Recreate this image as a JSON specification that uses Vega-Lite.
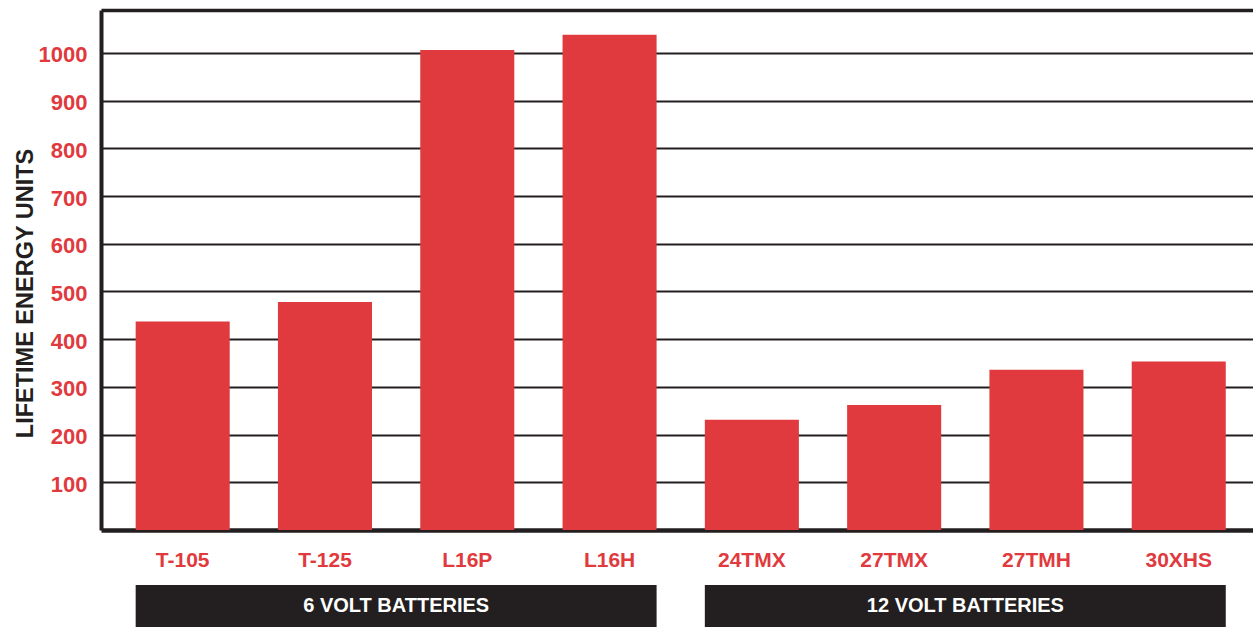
{
  "$schema": "https://vega.github.io/schema/vega-lite/v6.json",
  "autosize": {"type": "pad"},
  "padding": {"left": 13, "top": 10, "right": 0, "bottom": 0},
  "background": "white",
  "spacing": 55,
  "bounds": "flush",
  "config": {
    "view": {"stroke": null},
    "font": "'Liberation Sans', Arial, sans-serif"
  },
  "datasets": {
    "bars": [
      {"model": "T-105", "energy": 437, "group": "6 VOLT BATTERIES"},
      {"model": "T-125", "energy": 478, "group": "6 VOLT BATTERIES"},
      {"model": "L16P", "energy": 1006, "group": "6 VOLT BATTERIES"},
      {"model": "L16H", "energy": 1038, "group": "6 VOLT BATTERIES"},
      {"model": "24TMX", "energy": 231, "group": "12 VOLT BATTERIES"},
      {"model": "27TMX", "energy": 262, "group": "12 VOLT BATTERIES"},
      {"model": "27TMH", "energy": 336, "group": "12 VOLT BATTERIES"},
      {"model": "30XHS", "energy": 353, "group": "12 VOLT BATTERIES"}
    ],
    "groups": [
      {"label": "6 VOLT BATTERIES", "start": "T-105", "end": "L16H"},
      {"label": "12 VOLT BATTERIES", "start": "24TMX", "end": "30XHS"}
    ]
  },
  "vconcat": [
    {
      "width": 1152,
      "height": 520,
      "data": {"name": "bars"},
      "mark": {"type": "bar", "color": "#e03a3e"},
      "encoding": {
        "x": {
          "field": "model",
          "type": "nominal",
          "sort": null,
          "scale": {
            "domain": ["T-105", "T-125", "L16P", "L16H", "24TMX", "27TMX", "27TMH", "30XHS"],
            "paddingInner": 0.339,
            "paddingOuter": 0.2175,
            "align": 0.56
          },
          "axis": {
            "title": null,
            "labelAngle": 0,
            "labelColor": "#e03a3e",
            "labelFontSize": 21,
            "labelFontWeight": "bold",
            "labelBaseline": "alphabetic",
            "labelPadding": 36,
            "ticks": false,
            "tickSize": 0,
            "grid": false,
            "domain": true,
            "domainColor": "#231f20",
            "domainWidth": 4.5
          }
        },
        "y": {
          "field": "energy",
          "type": "quantitative",
          "scale": {"domain": [0, 1090], "nice": false, "zero": true},
          "axis": {
            "title": "LIFETIME ENERGY UNITS",
            "values": [100, 200, 300, 400, 500, 600, 700, 800, 900, 1000, 1090],
            "format": "d",
            "labelExpr": "datum.value > 1000 ? '' : datum.label",
            "grid": true,
            "gridColor": "#231f20",
            "gridOpacity": 1,
            "gridWidth": {"condition": {"test": "datum.value > 1000", "value": 3.5}, "value": 2},
            "ticks": false,
            "tickSize": 0,
            "domain": true,
            "domainColor": "#231f20",
            "domainWidth": 4,
            "labelColor": "#e03a3e",
            "labelFontSize": 22,
            "labelFontWeight": "bold",
            "labelPadding": 14,
            "labelBaseline": "alphabetic",
            "labelOffset": 9,
            "titleFontSize": 23.5,
            "titleFontWeight": "bold",
            "titleColor": "#231f20",
            "titleAngle": -90,
            "titleAlign": "center",
            "titleBaseline": "alphabetic",
            "titleX": -69,
            "titleY": 283
          }
        }
      }
    },
    {
      "width": 1152,
      "height": 42,
      "data": {"name": "groups"},
      "layer": [
        {
          "mark": {"type": "rect", "color": "#231f20"},
          "encoding": {
            "x": {
              "field": "start",
              "type": "nominal",
              "bandPosition": 0,
              "scale": {
                "domain": ["T-105", "T-125", "L16P", "L16H", "24TMX", "27TMX", "27TMH", "30XHS"],
                "paddingInner": 0.339,
                "paddingOuter": 0.2175,
                "align": 0.56
              },
              "axis": null
            },
            "x2": {"field": "end", "bandPosition": 1}
          }
        },
        {
          "mark": {"type": "text", "color": "white", "fontSize": 20, "fontWeight": "bold", "align": "center", "baseline": "middle"},
          "encoding": {
            "x": {
              "field": "start",
              "type": "nominal",
              "bandPosition": 2.77,
              "scale": {
                "domain": ["T-105", "T-125", "L16P", "L16H", "24TMX", "27TMX", "27TMH", "30XHS"],
                "paddingInner": 0.339,
                "paddingOuter": 0.2175,
                "align": 0.56
              },
              "axis": null
            },
            "text": {"field": "label"}
          }
        }
      ]
    }
  ]
}
